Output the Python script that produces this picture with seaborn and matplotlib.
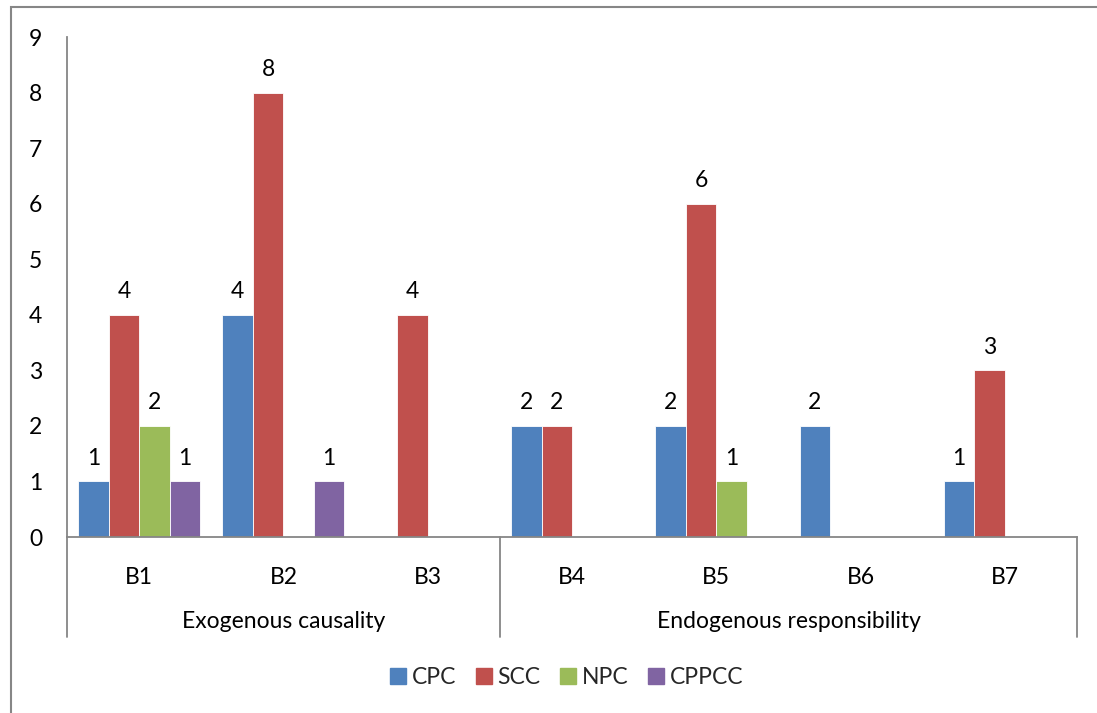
import matplotlib
matplotlib.use("Agg")
import matplotlib.pyplot as plt
import matplotlib.transforms as mtransforms
from matplotlib.patches import Rectangle
from matplotlib.lines import Line2D
import pandas as pd
import seaborn as sns

categories = ["B1", "B2", "B3", "B4", "B5", "B6", "B7"]
series = ["CPC", "SCC", "NPC", "CPPCC"]
cpc = [1, 4, 0, 2, 2, 2, 1]
scc = [4, 8, 4, 2, 6, 0, 3]
npc = [2, 0, 0, 0, 1, 0, 0]
cppcc = [1, 1, 0, 0, 0, 0, 0]
groups = ["Exogenous causality", "Endogenous responsibility"]
group_sizes = [3, 4]
colors = ["#4F81BD", "#C0504D", "#9BBB59", "#8064A2"]

values = {"CPC": cpc, "SCC": scc, "NPC": npc, "CPPCC": cppcc}
df = pd.DataFrame(
    [(c, s, values[s][i]) for s in series for i, c in enumerate(categories)],
    columns=["cat", "series", "value"],
)

sns.set_theme(style="white")
plt.rcParams["font.family"] = ["Lato", "DejaVu Sans"]
FS = 16.5

fig = plt.figure(figsize=(10.97, 7.13), dpi=100)
ax = fig.add_axes([0.0611, 0.2468, 0.9207, 0.7012])

sns.barplot(data=df, x="cat", y="value", hue="series", order=categories,
            hue_order=series, palette=colors, width=0.845, gap=0,
            edgecolor="white", linewidth=0.6, saturation=1, legend=False, ax=ax)

for cont, s in zip(ax.containers, series):
    labels = [str(v) if v else "" for v in values[s]]
    ax.bar_label(cont, labels=labels, padding=9, fontsize=FS, color="black")

ax.set_xlim(-0.5, len(categories) - 0.5)
ax.set_ylim(0, 9)
ax.set_yticks(range(0, 10))
ax.tick_params(axis="y", length=0, pad=18, labelsize=FS, labelcolor="black")
ax.set_xticks([])
ax.set_xlabel("")
ax.set_ylabel("")
for side in ["top", "right"]:
    ax.spines[side].set_visible(False)
for side in ["left", "bottom"]:
    ax.spines[side].set_color("#868686")
    ax.spines[side].set_linewidth(1.3)

# two-level category axis
trans = mtransforms.blended_transform_factory(ax.transData, ax.transAxes)
for i, c in enumerate(categories):
    ax.text(i, -0.08, c, transform=trans, ha="center", va="center",
            fontsize=FS, color="black")
start = 0
bounds = [-0.5]
for g, n in zip(groups, group_sizes):
    mid = start + (n - 1) / 2
    ax.text(mid, -0.168, g, transform=trans, ha="center", va="center",
            fontsize=FS, color="black")
    start += n
    bounds.append(start - 0.5)
for b in bounds:
    ax.plot([b, b], [0, -0.2], transform=trans, color="#868686", lw=1.3,
            clip_on=False)

# legend
handles = [Line2D([], [], marker="s", linestyle="", markersize=11,
                  markerfacecolor=col, markeredgecolor=col) for col in colors]
fig.legend(handles, series, loc="center", bbox_to_anchor=(0.515, 0.05),
           ncol=4, frameon=False, fontsize=FS, handletextpad=0.1,
           columnspacing=0.7, handlelength=1.0)

# chart border
fig.patches.append(Rectangle((11 / 1097, -0.05), 1.2, 1 - 7 / 713 + 0.05,
                             transform=fig.transFigure, fill=False,
                             edgecolor="#868686", lw=1.5))

fig.savefig("out.png", dpi=100)
